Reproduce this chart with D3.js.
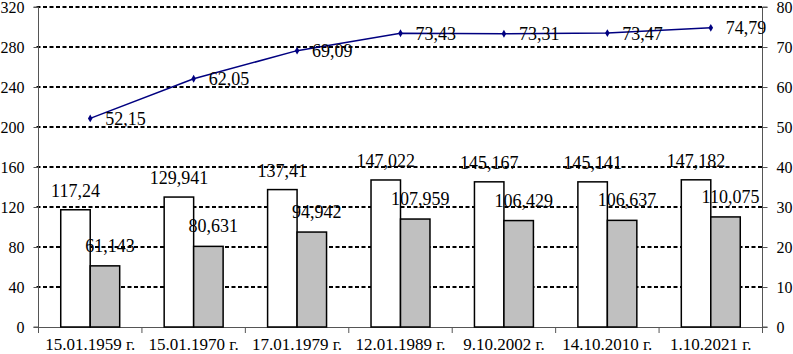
<!DOCTYPE html>
<html><head><meta charset="utf-8">
<script src="https://cdn.jsdelivr.net/npm/d3@7/dist/d3.min.js"></script>
<style>body{margin:0;background:#fff}svg{display:block}svg text{font-family:'Liberation Serif',serif;fill:#000}</style>
</head><body>
<svg id="c" width="793" height="354" font-family="Liberation Serif"></svg>
<script>
const categories = ["15.01.1959 г.","15.01.1970 г.","17.01.1979 г.","12.01.1989 г.","9.10.2002 г.","14.10.2010 г.","1.10.2021 г."];
const seriesA = [117.24,129.941,137.41,147.022,145.167,145.141,147.182];
const seriesALabels = ["117,24","129,941","137,41","147,022","145,167","145,141","147,182"];
const seriesB = [61.143,80.631,94.942,107.959,106.429,106.637,110.075];
const seriesBLabels = ["61,143","80,631","94,942","107,959","106,429","106,637","110,075"];
const seriesLine = [52.15,62.05,69.09,73.43,73.31,73.47,74.79];
const seriesLineLabels = ["52,15","62,05","69,09","73,43","73,31","73,47","74,79"];
const leftTicks = [0,40,80,120,160,200,240,280,320];
const rightTicks = [0,10,20,30,40,50,60,70,80];

const svg = d3.select("#c");
const L = 38.5, R = 762.5, T = 7, B = 327;
const x0 = d3.scaleBand().domain(categories).range([L,R]).paddingInner(0.43).paddingOuter(0.215);
const x1 = d3.scaleBand().domain(["a","b"]).range([0,x0.bandwidth()]);
const yL = d3.scaleLinear().domain([0,320]).range([B,T]);
const yR = d3.scaleLinear().domain([0,80]).range([B,T]);
const center = c => x0(c) + x0.bandwidth()/2;

// gridlines
svg.append("g").selectAll("line").data(leftTicks.filter(d=>d>0)).join("line")
  .attr("x1",L-2).attr("x2",R).attr("y1",d=>Math.round(yL(d))).attr("y2",d=>Math.round(yL(d)))
  .attr("stroke","#000").attr("stroke-width",2).attr("stroke-dasharray","4,2.5");

// axes
const axL = svg.append("g").attr("transform",`translate(${L},0)`)
  .call(d3.axisLeft(yL).tickValues(leftTicks).tickSize(5).tickPadding(9).tickFormat(d3.format("d")));
const axR = svg.append("g").attr("transform",`translate(${R},0)`)
  .call(d3.axisRight(yR).tickValues(rightTicks).tickSize(5).tickPadding(9).tickFormat(d3.format("d")));
[axL,axR].forEach(a=>{
  a.attr("font-family","Liberation Serif").attr("font-size",16);
  a.select(".domain").attr("stroke","#555").attr("stroke-width",1);
  a.selectAll(".tick line").attr("stroke","#555");
  a.selectAll("text").style("font-size","16px");
});
axL.select(".domain").attr("d",`M-5,${T}H0V${B}H-5`);
axR.select(".domain").attr("d",`M5,${T}H0V${B}H5`);

// bottom axis with ticks between categories
const bnd = d3.range(categories.length+1).map(i => L + i*(R-L)/categories.length);
svg.append("line").attr("x1",L-4).attr("x2",R+4).attr("y1",B+0.5).attr("y2",B+0.5).attr("stroke","#555");
svg.append("g").selectAll("line").data(bnd).join("line")
  .attr("x1",d=>d).attr("x2",d=>d).attr("y1",B).attr("y2",B+6).attr("stroke","#555");
svg.append("g").selectAll("text").data(categories).join("text")
  .attr("x",d=>center(d)).attr("y",350).attr("text-anchor","middle")
  .style("font-size","17px").text(d=>d);

// bars
const g = svg.append("g").selectAll("g").data(categories).join("g").attr("transform",d=>`translate(${x0(d)},0)`);
g.append("rect").attr("x",x1("a")).attr("width",x1.bandwidth())
  .attr("y",(d,i)=>yL(seriesA[i])).attr("height",(d,i)=>B-yL(seriesA[i]))
  .attr("fill","#fff").attr("stroke","#000").attr("stroke-width",1.5);
g.append("rect").attr("x",x1("b")).attr("width",x1.bandwidth())
  .attr("y",(d,i)=>yL(seriesB[i])).attr("height",(d,i)=>B-yL(seriesB[i]))
  .attr("fill","#c0c0c0").attr("stroke","#000").attr("stroke-width",1.5);

// bar labels
g.append("text").attr("x",x1("a")+x1.bandwidth()/2).attr("y",(d,i)=>yL(seriesA[i])-13)
  .attr("text-anchor","middle").style("font-size","18px").text((d,i)=>seriesALabels[i]);
g.append("text").attr("x",x1("b")+x1.bandwidth()/2+5).attr("y",(d,i)=>yL(seriesB[i])-14)
  .attr("text-anchor","middle").style("font-size","18px").text((d,i)=>seriesBLabels[i]);

// line
const line = d3.line().x((d,i)=>center(categories[i])).y(d=>yR(d));
svg.append("path").datum(seriesLine).attr("d",line).attr("fill","none").attr("stroke","#000080").attr("stroke-width",1.5);
svg.append("g").selectAll("path").data(seriesLine).join("path")
  .attr("d",d3.symbol(d3.symbolDiamond,18))
  .attr("transform",(d,i)=>`translate(${center(categories[i])},${yR(d)})`).attr("fill","#000080");
svg.append("g").selectAll("text").data(seriesLine).join("text")
  .attr("x",(d,i)=>center(categories[i])+15).attr("y",d=>yR(d)+6.5)
  .style("font-size","18px").text((d,i)=>seriesLineLabels[i]);
</script>
</body></html>
